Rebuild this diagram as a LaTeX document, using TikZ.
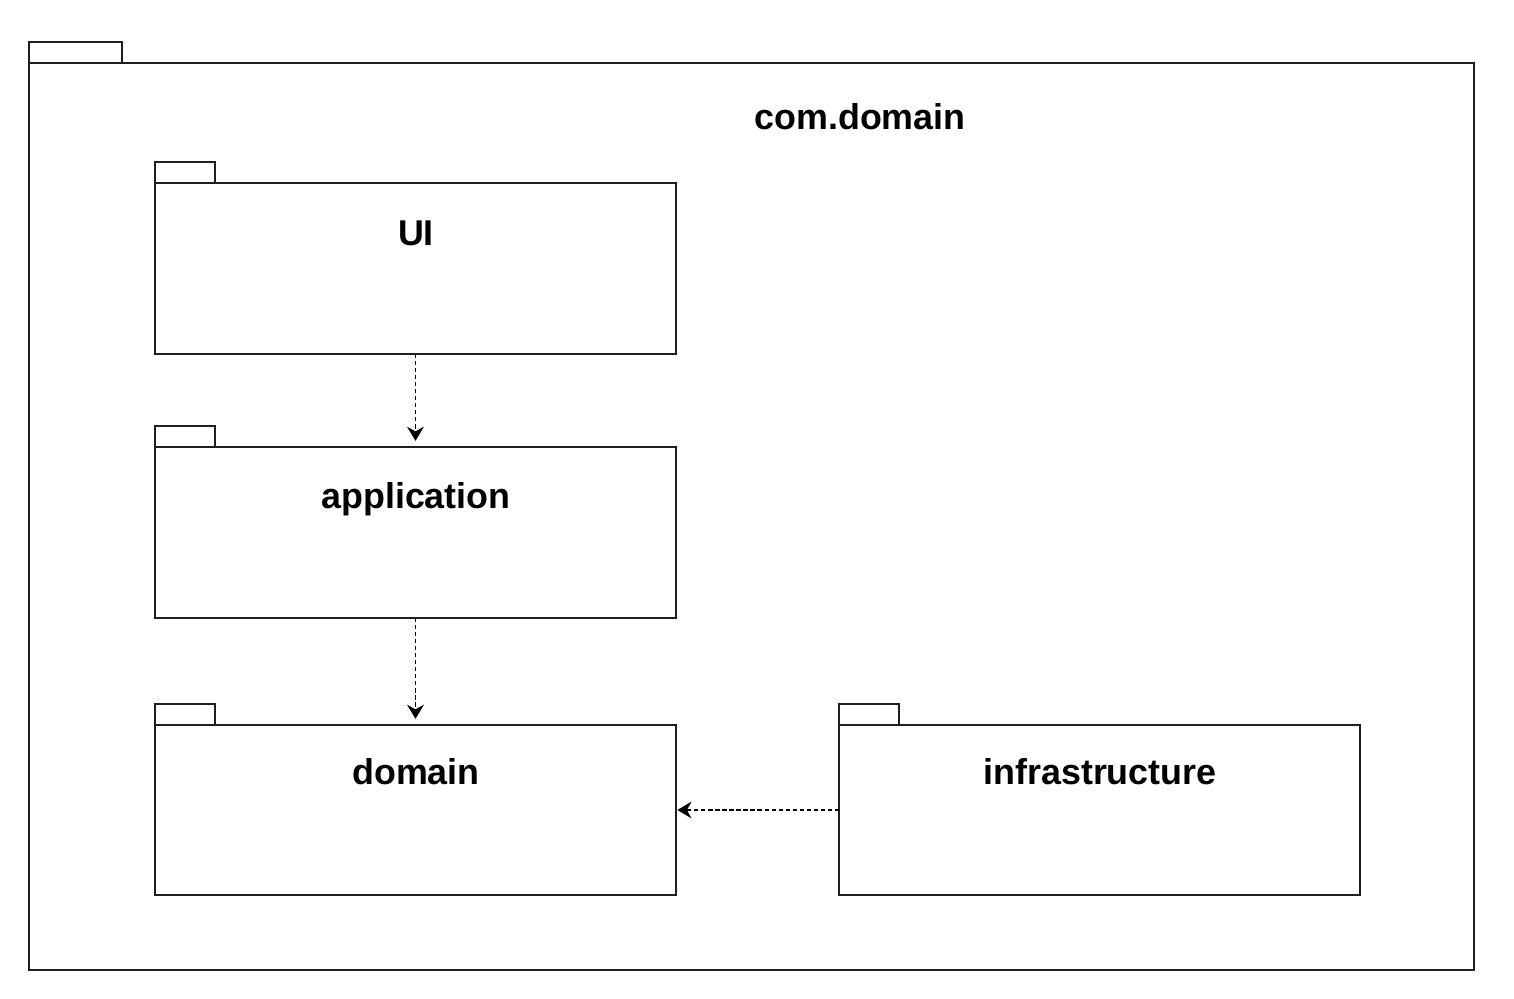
\documentclass[tikz,border=0pt]{standalone}
\usepackage{fontspec}
\setmainfont{Liberation Sans}
\usetikzlibrary{arrows.meta}
\begin{document}
\begin{tikzpicture}[x=0.02cm,y=-0.02cm,
  pline/.style={draw=black!88,line width=0.75pt},
  pbody/.style={pline,rectangle,anchor=north west,inner sep=0pt,outer sep=0pt},
  ptab/.style={pline,rectangle,anchor=south west,inner sep=0pt,outer sep=0pt,minimum height=21*0.02cm},
  plabel/.style={font=\bfseries\fontsize{20.4pt}{24pt}\selectfont,inner sep=0pt},
  dep/.style={draw=black,line width=1.1pt,dash pattern=on 2.4pt off 1.6pt,
    -{Stealth[length=8pt,width=9.5pt,inset=2.6pt]}}
]
\useasboundingbox (0,0) rectangle (1514,998);
% outer package
\node[pbody,minimum width=1445*0.02cm,minimum height=907*0.02cm] (outer) at (29,63) {};
\node[ptab,minimum width=93*0.02cm] (outertab) at (29,63) {};
\node[plabel] (outerlbl) at (860,117) {com.domain};
% UI
\node[pbody,minimum width=521*0.02cm,minimum height=171*0.02cm] (ui) at (155,183) {};
\node[ptab,minimum width=60*0.02cm] (uitab) at (155,183) {};
\node[plabel] (uilbl) at (416,233) {UI};
% application
\node[pbody,minimum width=521*0.02cm,minimum height=171*0.02cm] (app) at (155,447) {};
\node[ptab,minimum width=60*0.02cm] (apptab) at (155,447) {};
\node[plabel] (applbl) at (416,499) {application};
% domain
\node[pbody,minimum width=521*0.02cm,minimum height=170*0.02cm] (dom) at (155,725) {};
\node[ptab,minimum width=60*0.02cm] (domtab) at (155,725) {};
\node[plabel] (domlbl) at (416,772) {domain};
% infrastructure
\node[pbody,minimum width=521*0.02cm,minimum height=170*0.02cm] (inf) at (839,725) {};
\node[ptab,minimum width=60*0.02cm] (inftab) at (839,725) {};
\node[plabel] (inflbl) at (1100,772) {infrastructure};
% dependencies
\draw[dep,shorten >=3.5pt] (ui.south) -- (app.north);
\draw[dep,shorten >=3.5pt] (app.south) -- (dom.north);
\draw[dep,shorten >=0.8pt] (inf.west) -- (dom.east);
\end{tikzpicture}
\end{document}
